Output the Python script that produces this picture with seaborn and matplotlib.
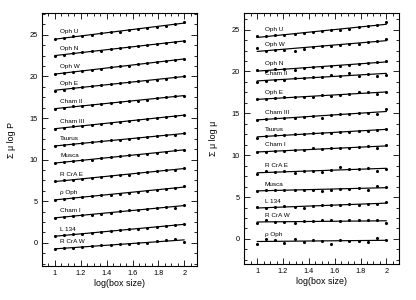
import numpy as np
import pandas as pd
import matplotlib
matplotlib.use("Agg")
import matplotlib.pyplot as plt
from matplotlib.ticker import MultipleLocator, AutoMinorLocator
import seaborn as sns

# --- data ---
log_box = [1.00, 1.07, 1.14, 1.21, 1.29, 1.36, 1.43, 1.50, 1.57, 1.64, 1.71, 1.79, 1.86, 1.93, 2.00]

# left panel: sum mu log P
left_names = ["Oph U", "Oph N", "Oph W", "Oph E", "Cham II", "Cham III", "Taurus",
              "Musca", "R CrA E", "\u03c1 Oph", "Cham I", "L 134", "R CrA W"]
left_oph_u = [24.5, 24.6, 24.8, 24.9, 25.0, 25.2, 25.3, 25.4, 25.6, 25.7, 25.8, 26.0, 26.1, 26.3, 26.5]
left_oph_n = [22.5, 22.6, 22.8, 22.9, 23.0, 23.1, 23.3, 23.4, 23.5, 23.6, 23.8, 23.9, 24.0, 24.1, 24.3]
left_oph_w = [20.3, 20.4, 20.5, 20.7, 20.8, 20.9, 21.1, 21.2, 21.3, 21.5, 21.6, 21.7, 21.8, 22.0, 22.1]
left_oph_e = [18.3, 18.4, 18.6, 18.7, 18.8, 19.0, 19.1, 19.2, 19.3, 19.4, 19.5, 19.6, 19.7, 19.9, 20.0]
left_cham2 = [16.1, 16.2, 16.4, 16.5, 16.6, 16.7, 16.8, 16.9, 17.0, 17.1, 17.2, 17.4, 17.5, 17.6, 17.7]
left_cham3 = [13.7, 13.8, 14.0, 14.1, 14.2, 14.3, 14.4, 14.5, 14.6, 14.8, 14.9, 15.0, 15.1, 15.2, 15.4]
left_taurus = [11.6, 11.7, 11.9, 12.0, 12.1, 12.2, 12.3, 12.4, 12.5, 12.6, 12.7, 12.8, 12.9, 13.0, 13.2]
left_musca = [9.6, 9.7, 9.8, 9.9, 10.0, 10.2, 10.3, 10.4, 10.5, 10.6, 10.7, 10.8, 10.9, 11.1, 11.2]
left_rcrae = [7.4, 7.5, 7.6, 7.7, 7.8, 7.9, 8.0, 8.1, 8.2, 8.4, 8.5, 8.6, 8.7, 8.8, 9.0]
left_rhooph = [5.2, 5.3, 5.4, 5.5, 5.6, 5.7, 5.8, 5.9, 6.0, 6.1, 6.2, 6.4, 6.5, 6.6, 6.8]
left_cham1 = [3.0, 3.1, 3.2, 3.3, 3.4, 3.5, 3.6, 3.8, 3.9, 4.0, 4.1, 4.2, 4.3, 4.2, 4.5]
left_l134 = [0.8, 0.9, 1.0, 1.1, 1.2, 1.3, 1.4, 1.5, 1.6, 1.7, 1.8, 1.9, 2.0, 2.1, 2.3]
left_rcraw = [-0.8, -0.6, -0.6, -0.5, -0.4, -0.3, -0.3, -0.2, -0.1, 0.0, 0.0, 0.2, 0.3, 0.4, 0.1]

# right panel: sum mu log mu
right_names = ["Oph U", "Oph W", "Oph N", "Cham II", "Oph E", "Cham III", "Taurus",
               "Cham I", "R CrA E", "Musca", "L 134", "R CrA W", "\u03c1 Oph"]
right_oph_u = [24.2, 24.2, 24.3, 24.4, 24.5, 24.6, 24.7, 24.8, 24.9, 25.0, 25.1, 25.3, 25.4, 25.5, 25.9]
right_oph_w = [22.8, 22.5, 22.6, 22.6, 22.5, 22.7, 22.9, 23.0, 23.1, 23.2, 23.3, 23.3, 23.5, 23.7, 23.9]
right_oph_n = [20.2, 20.1, 20.3, 20.3, 20.2, 20.4, 20.5, 20.5, 20.6, 20.7, 20.8, 20.9, 21.0, 21.1, 21.3]
right_cham2 = [18.7, 18.9, 19.0, 19.0, 19.2, 19.2, 19.3, 19.4, 19.6, 19.5, 19.8, 19.5, 19.7, 19.5, 19.6]
right_oph_e = [16.7, 16.7, 16.8, 16.9, 16.9, 17.0, 16.9, 17.2, 17.1, 17.2, 17.3, 17.6, 17.6, 17.3, 17.5]
right_cham3 = [14.2, 14.3, 14.4, 14.5, 14.5, 14.6, 14.7, 14.5, 14.8, 14.9, 14.9, 15.0, 15.1, 14.9, 15.5]
right_taurus = [12.0, 12.3, 12.4, 12.4, 12.5, 12.5, 12.6, 12.7, 12.7, 12.8, 12.8, 12.9, 12.9, 13.0, 13.1]
right_cham1 = [10.4, 10.4, 10.5, 10.5, 10.6, 10.6, 10.8, 10.7, 10.8, 10.9, 10.9, 11.0, 11.1, 10.8, 11.2]
right_rcrae = [7.7, 8.1, 8.0, 8.1, 7.9, 8.1, 8.1, 8.0, 8.2, 8.6, 8.4, 8.3, 8.5, 8.1, 8.4]
right_musca = [5.7, 5.8, 5.9, 5.8, 5.9, 5.9, 5.9, 5.7, 5.9, 6.0, 6.0, 6.1, 5.8, 6.3, 6.2]
right_l134 = [3.8, 3.7, 3.8, 3.9, 3.8, 3.7, 3.9, 4.0, 4.0, 4.1, 4.2, 4.0, 4.2, 4.2, 4.4]
right_rcraw = [1.9, 2.2, 2.0, 2.0, 1.9, 2.1, 2.1, 2.2, 2.2, 2.1, 2.2, 2.2, 2.2, 2.2, 1.9]
right_rhooph = [-0.6, 0.0, -0.1, -0.5, 0.0, -0.4, -0.1, -0.3, -0.6, -0.1, -0.2, -0.3, -0.4, 0.1, -0.1]

left_series = [left_oph_u, left_oph_n, left_oph_w, left_oph_e, left_cham2, left_cham3, left_taurus,
               left_musca, left_rcrae, left_rhooph, left_cham1, left_l134, left_rcraw]
right_series = [right_oph_u, right_oph_w, right_oph_n, right_cham2, right_oph_e, right_cham3, right_taurus,
                right_cham1, right_rcrae, right_musca, right_l134, right_rcraw, right_rhooph]

sns.set_style("ticks")
plt.rcParams['font.family'] = ['Liberation Sans', 'DejaVu Sans']
plt.rcParams['text.color'] = 'black'
plt.rcParams['axes.labelcolor'] = 'black'
plt.rcParams['xtick.color'] = 'black'
plt.rcParams['ytick.color'] = 'black'
plt.rcParams['axes.edgecolor'] = 'black'

fig = plt.figure(figsize=(4.16, 3.0), dpi=100)
ax_l = fig.add_axes([0.101, 0.113, 0.373, 0.843])
ax_r = fig.add_axes([0.587, 0.12, 0.373, 0.837])


def draw_panel(ax, names, series, ylabel, ylim, label_x):
    for name, vals in zip(names, series):
        df = pd.DataFrame({"x": log_box, "y": vals})
        sns.regplot(data=df, x="x", y="y", ax=ax, ci=None, color="black",
                    scatter_kws={"s": 5, "linewidths": 0, "alpha": 1},
                    line_kws={"lw": 0.85})
        # label sits just above the fitted line near its left end
        slope, icpt = np.polyfit(log_box, vals, 1)
        ax.text(label_x, slope * label_x + icpt + 0.5, name, fontsize=4.6,
                ha="left", va="bottom")
    ax.set_xlim(0.9, 2.1)
    ax.set_ylim(*ylim)
    ax.xaxis.set_minor_locator(MultipleLocator(0.05))
    ax.yaxis.set_major_locator(MultipleLocator(5))
    ax.yaxis.set_minor_locator(AutoMinorLocator(4))
    ax.set_xticks([1, 1.2, 1.4, 1.6, 1.8, 2])
    ax.set_xticklabels(["1", "1.2", "1.4", "1.6", "1.8", "2"])
    ax.tick_params(which="both", direction="in", top=True, right=True,
                   labelsize=5.3, width=0.6, pad=3)
    ax.tick_params(which="major", length=4)
    ax.tick_params(which="minor", length=2)
    for sp in ax.spines.values():
        sp.set_linewidth(0.8)
    ax.set_xlabel("log(box size)", fontsize=6.4, labelpad=1)
    ax.set_ylabel(ylabel, fontsize=6.4, labelpad=10)


draw_panel(ax_l, left_names, left_series, "\u03a3 \u03bc log P", (-2.8, 27.6), 1.04)
draw_panel(ax_r, right_names, right_series, "\u03a3 \u03bc log \u03bc", (-3.0, 27.0), 1.06)

fig.savefig("out.png", dpi=100)
